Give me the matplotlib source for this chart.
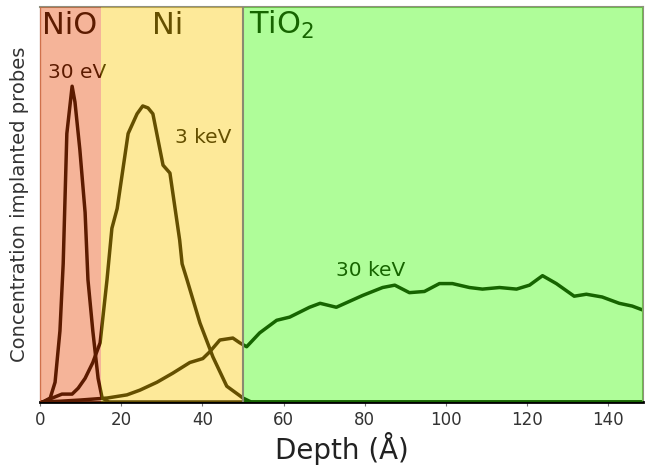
import matplotlib.pyplot as plt
import numpy as np

# depth in Angstrom, concentration in arbitrary units
x_30ev = [0, 0.7, 2.5, 3.7, 4.9, 5.7, 6.6, 7.9, 8.6, 9.8, 11.1, 11.8, 13.0, 14.3, 15.3, 17, 20, 50, 148.5]
y_30ev = [0, 0, 0.01, 0.05, 0.18, 0.35, 0.68, 0.80, 0.76, 0.64, 0.48, 0.31, 0.18, 0.06, 0.01, 0, 0, 0, 0]

x_3kev = [0, 0.7, 3, 5.4, 7.9, 9.4, 11.1, 13, 14.8, 16.5, 17.7, 19, 21.7, 23.9, 25.3, 26.6, 27.8,
          30.3, 32, 34.4, 35, 36.2, 39.4, 42.6, 46, 50, 52, 148.5]
y_3kev = [0, 0, 0.01, 0.02, 0.02, 0.035, 0.06, 0.10, 0.15, 0.31, 0.44, 0.49, 0.68, 0.73, 0.75, 0.745, 0.73,
          0.60, 0.58, 0.41, 0.35, 0.31, 0.20, 0.114, 0.04, 0.01, 0, 0]

x_30kev = [0, 5, 10, 16.5, 21.4, 24.6, 28.8, 32.7, 36.9, 40.1, 41.8, 44.3, 47.5, 49.2, 50.9, 54.1, 58.3,
           61.5, 66.4, 69, 73, 79.5, 84.4, 87.4, 91, 94.7, 98.4, 101.6, 105.8, 109, 113.2, 117.4,
           120.6, 123.8, 127.2, 131.6, 134.6, 138.5, 142.7, 145.9, 148.5]
y_30kev = [0, 0.002, 0.005, 0.01, 0.018, 0.03, 0.05, 0.073, 0.10, 0.11, 0.127, 0.157, 0.162, 0.15, 0.14,
           0.175, 0.207, 0.215, 0.24, 0.25, 0.24, 0.27, 0.29, 0.296, 0.277, 0.28, 0.30, 0.30, 0.29,
           0.286, 0.29, 0.286, 0.296, 0.32, 0.30, 0.268, 0.273, 0.266, 0.25, 0.243, 0.233]

layers = ['NiO', 'Ni', 'TiO$_2$']
layer_edges = [0, 15, 50, 148.5]
layer_colors = ['#E84400', '#FCC800', '#39FC00']

fig = plt.figure(figsize=(6.46, 4.75), dpi=100)
ax = fig.add_axes([0.062, 0.1537, 0.933, 0.831])

# curves drawn in black, coloured layers laid over them with alpha
ax.plot(x_30ev, y_30ev, color='black', lw=2.5, zorder=2)
ax.plot(x_3kev, y_3kev, color='black', lw=2.5, zorder=2)
ax.plot(x_30kev, y_30kev, color='black', lw=2.5, zorder=2)

ax.text(2.0, 0.835, '30 eV', fontsize=14.5, ha='left', va='center', zorder=2)
ax.text(33.2, 0.67, '3 keV', fontsize=14.5, ha='left', va='center', zorder=2)
ax.text(73, 0.334, '30 keV', fontsize=14.5, ha='left', va='center', zorder=2)

label_x = [0.5, 27.5, 51.5]
for name, lx in zip(layers, label_x):
    ax.text(lx, 0.955, name, fontsize=22, ha='left', va='center', zorder=2)

for i in range(len(layers)):
    ax.axvspan(layer_edges[i], layer_edges[i + 1], color=layer_colors[i], alpha=0.4, lw=0, zorder=4)

ax.axvline(50, color='#8a8a70', lw=1.5, zorder=5)

ax.set_xlim(0, 148.5)
ax.set_ylim(0, 1)
ax.set_xticks([0, 20, 40, 60, 80, 100, 120, 140])
ax.set_yticks([])
ax.tick_params(axis='x', labelsize=12, labelcolor='#333333', color='#777777', length=3)
ax.set_xlabel('Depth (Å)', fontsize=20, color='#222222', labelpad=2)
ax.set_ylabel('Concentration implanted probes', fontsize=14, color='#333333', labelpad=8)

ax.spines['bottom'].set_color('black')
ax.spines['bottom'].set_linewidth(2)
ax.spines['bottom'].set_zorder(3)
for s in ['top', 'right']:
    ax.spines[s].set_color('#909080')
    ax.spines[s].set_linewidth(1.5)
ax.spines['left'].set_color('#c09080')
ax.spines['left'].set_linewidth(1)

fig.savefig('out.png', dpi=100)
